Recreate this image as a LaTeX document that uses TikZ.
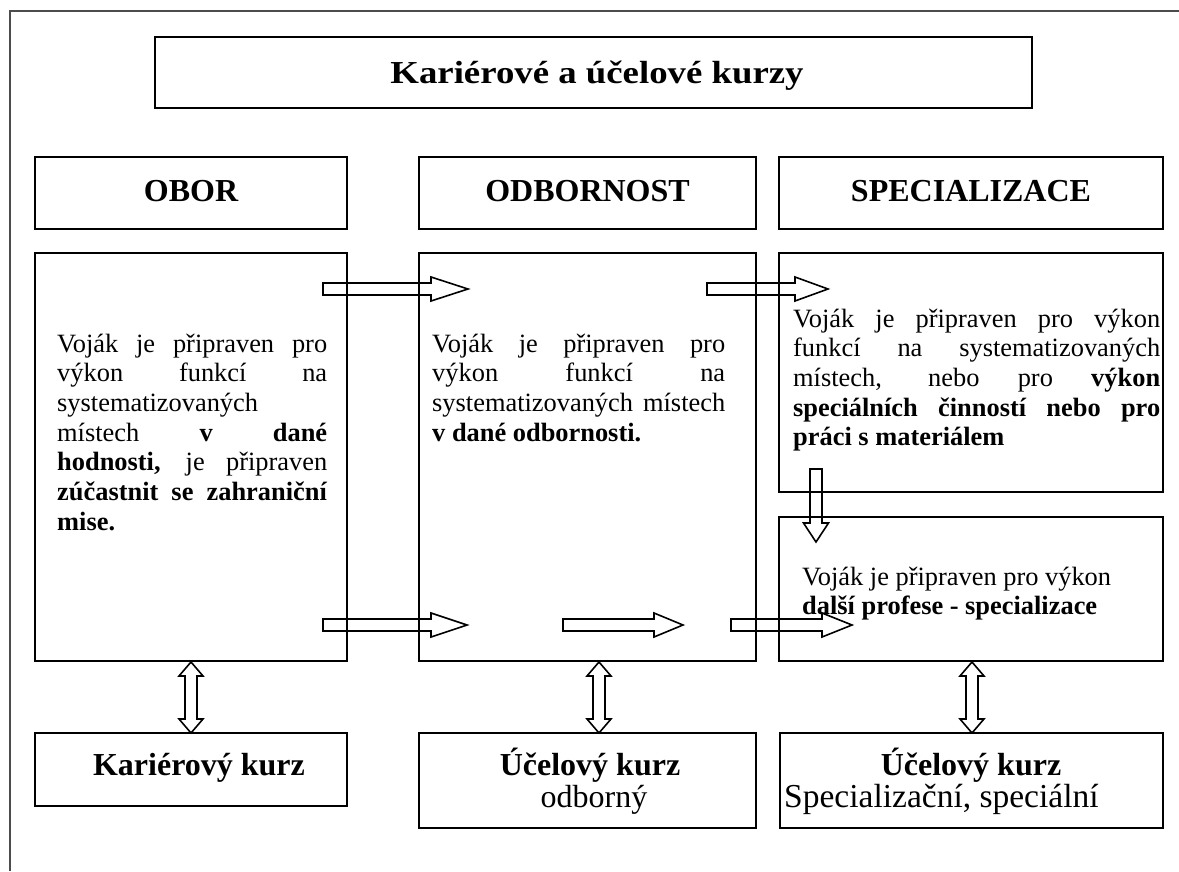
\documentclass[tikz,border=0pt]{standalone}
\usepackage{fontspec}
\setmainfont{Liberation Serif}
\newcommand\jl[1]{\makebox[\linewidth][s]{#1}}
\newcommand\bodysize{\fontsize{26.4}{29.7}\selectfont}
\begin{document}
\begin{tikzpicture}[x=1pt,y=-1pt,
  box/.style={draw=black, line width=1.7pt, inner sep=0pt, fill=none},
  frame/.style={draw=black!70, line width=1.4pt},
  barrow/.style={draw=black, line width=1.6pt, line join=miter},
  head/.style={inner sep=0pt, font=\fontsize{32}{32}\selectfont\bfseries},
  plain/.style={inner sep=0pt, font=\fontsize{32}{32}\selectfont},
  txt/.style={inner sep=0pt, anchor=base west}]
\useasboundingbox (0,0) rectangle (1179,871);
\fill[white] (0,0) rectangle (1179,871);
% outer frame (top and left only)
\draw[frame] (10,871) -- (10,11) -- (1179,11);

% title
\node[box, minimum width=877, minimum height=71] (title) at (593.5,72.5) {};
\node[head, anchor=base] (titletext) at (597,83) {\scalebox{1.15}[1]{Kariérové a účelové kurzy}};

% column headings
\node[box, minimum width=312, minimum height=72] (obor) at (191,193) {};
\node[box, minimum width=337, minimum height=72] (odb) at (587.5,193) {};
\node[box, minimum width=384, minimum height=72] (spec) at (971,193) {};
\node[head, anchor=base] (obort) at (191,201) {OBOR};
\node[head, anchor=base] (odbt) at (587.5,201) {ODBORNOST};
\node[head, anchor=base] (spect) at (971,201) {SPECIALIZACE};

% content boxes
\node[box, minimum width=312, minimum height=408] (c1) at (191,457) {};
\node[box, minimum width=337, minimum height=408] (c2) at (587.5,457) {};
\node[box, minimum width=384, minimum height=239] (c3a) at (971,372.5) {};
\node[box, minimum width=384, minimum height=144] (c3b) at (971,589) {};

% bottom boxes
\node[box, minimum width=312, minimum height=73] (b1) at (191,769.5) {};
\node[box, minimum width=337, minimum height=95] (b2) at (587.5,780.5) {};
\node[box, minimum width=383, minimum height=95] (b3) at (971.5,780.5) {};
\node[head, anchor=base] (b1t) at (199,775) {Kariérový kurz};
\node[head, anchor=base] (b2t) at (590,775) {Účelový kurz};
\node[plain, anchor=base] (b2u) at (594,807) {odborný};
\node[head, anchor=base] (b3t) at (971,775) {Účelový kurz};
\node[plain, anchor=base west, font=\fontsize{33.5}{33.5}\selectfont] (b3u) at (784,807) {Specializační, speciální};

% texts
\node[txt] (t1) at (57,352) {\parbox[t]{270pt}{\bodysize
\jl{Voják je připraven pro}\\
\jl{výkon funkcí na}\\
systematizovaných\\
\jl{místech \textbf{v dané}}\\
\jl{\textbf{hodnosti,} je připraven}\\
\jl{\textbf{zúčastnit se zahraniční}}\\
\textbf{mise.}}};

\node[txt] (t2) at (432,352) {\parbox[t]{293pt}{\bodysize
\jl{Voják je připraven pro}\\
\jl{výkon funkcí na}\\
\jl{systematizovaných místech}\\
\textbf{v dané odbornosti.}}};

\node[txt] (t3) at (793,327) {\parbox[t]{367pt}{\bodysize
\jl{Voják je připraven pro výkon}\\
\jl{funkcí na systematizovaných}\\
\jl{místech, nebo pro \textbf{výkon}}\\
\jl{\textbf{speciálních činností nebo pro}}\\
\textbf{práci s materiálem}}};

\node[txt] (t4) at (802,585) {\parbox[t]{360pt}{\bodysize
Voják je připraven pro výkon\\
\textbf{další profese - specializace}}};

% horizontal block arrows: start, head base, tip, y
\foreach \a/\b/\c/\y in {323/431/468/289, 707/795/828/289, 323/431/467/625, 563/654/683/625, 731/822/852/625}{
  \draw[barrow] (\a,\y-6) -- (\b,\y-6) -- (\b,\y-12) -- (\c,\y) -- (\b,\y+12) -- (\b,\y+6) -- (\a,\y+6) -- cycle;
}
% down arrow between the specialisation boxes
\draw[barrow] (810,469) -- (822,469) -- (822,523) -- (828.5,523) -- (816,542) -- (803.5,523) -- (810,523) -- cycle;

% vertical double arrows
\foreach \x in {191,599,972}{
  \draw[barrow] (\x,662) -- (\x+12,676) -- (\x+6,676) -- (\x+6,719) -- (\x+12,719) -- (\x,733)
    -- (\x-12,719) -- (\x-6,719) -- (\x-6,676) -- (\x-12,676) -- cycle;
}
\end{tikzpicture}
\end{document}
